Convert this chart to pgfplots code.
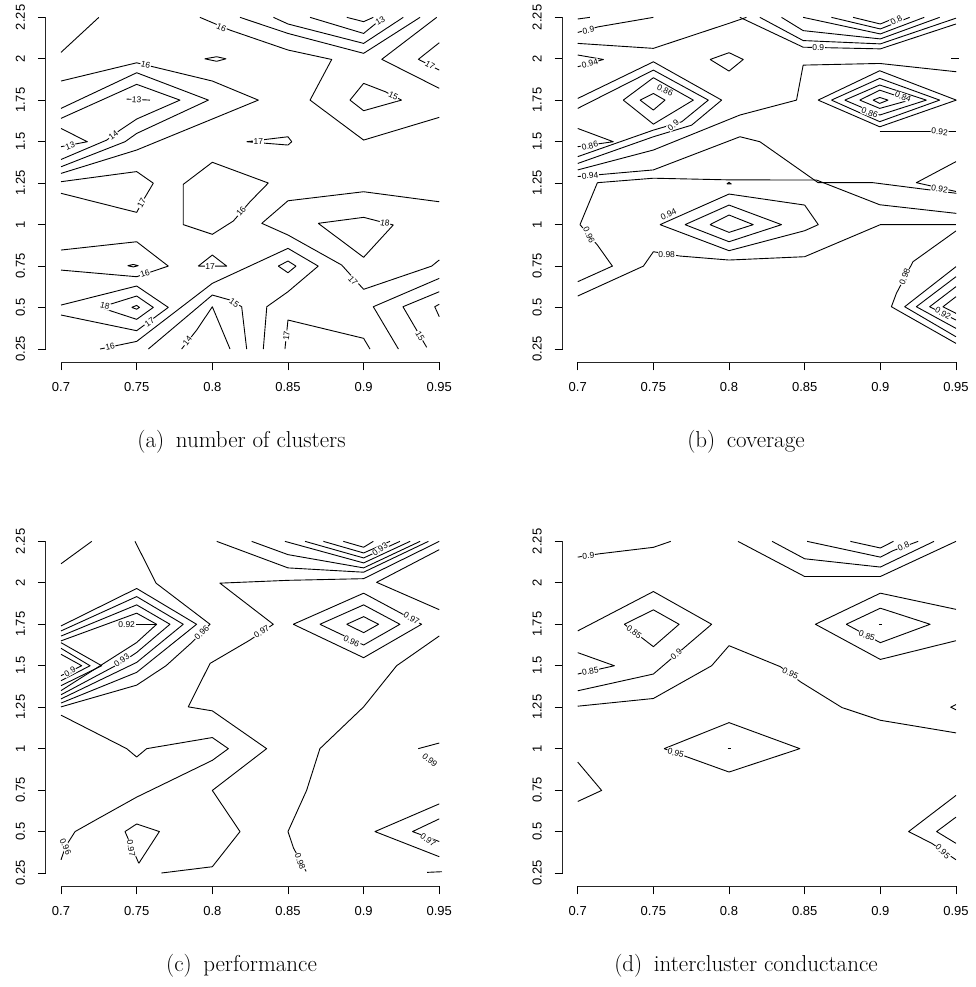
\documentclass[border=0pt]{standalone}
\usepackage{fontspec}
\setmainfont{Latin Modern Roman}
\newfontfamily\rfont{Liberation Sans}
\usepackage{pgfplots}
\pgfplotsset{compat=1.18}
\tikzset{c/.style={black, line width=0.9pt, mark=none, line join=round},
  lbl/.style={font=\rfont\fontsize{8.5}{8.5}\selectfont, fill=white, inner sep=0.6pt}}
\pgfplotsset{
  rplot/.style={
    anchor=south west,
    scale only axis, width=408.5pt, height=358.2pt,
    xmin=0.69, xmax=0.96, ymin=0.17, ymax=2.33,
    axis x line*=bottom, axis y line*=left,
    axis line style={draw=none},
    tick align=outside, major tick length=8pt,
    tick style={black, line width=0.8pt},
    xtick={0.7,0.75,0.8,0.85,0.9,0.95},
    xticklabels={0.7,0.75,0.8,0.85,0.9,0.95},
    ytick={0.25,0.5,0.75,1,1.25,1.5,1.75,2,2.25},
    yticklabels={0.25,0.5,0.75,1,1.25,1.5,1.75,2,2.25},
    ticklabel style={font=\rfont\fontsize{13}{13}\selectfont},
    xticklabel style={anchor=base, inner sep=0pt, yshift=-21.5pt},
    yticklabel style={xshift=-12.9pt, rotate=90, anchor=base, inner sep=0pt},
    clip=false,
  },
}
\newcommand{\raxes}{%
  \draw[line width=1pt, black!85] (axis cs:0.7,0.17) -- (axis cs:0.95,0.17);
  \draw[line width=1pt, black!85] (axis cs:0.69,0.25) -- (axis cs:0.69,2.25);}
\begin{document}
\begin{tikzpicture}[x=1pt,y=1pt]
\useasboundingbox (0,0) rectangle (975,987);
% ================= (a) =================
\begin{axis}[rplot, at={(45.9pt,624.7pt)}]
\raxes
\addplot[c] coordinates {(0.7,2.039) (0.725,2.25)};
\addplot[c] coordinates {(0.7918,2.25) (0.8117,2.173) (0.85,2.053) (0.8789,1.996) (0.8646,1.751) (0.9,1.510) (0.95,1.647)};
\addplot[c] coordinates {(0.7,1.866) (0.75,1.976) (0.8,1.866) (0.8304,1.751) (0.8,1.637) (0.75,1.45) (0.7,1.309)};
\addplot[c] coordinates {(0.7,1.701) (0.75,1.916) (0.7974,1.751) (0.75,1.55) (0.7423,1.5) (0.7,1.349)};
\addplot[c] coordinates {(0.7,1.641) (0.75,1.846) (0.7786,1.751) (0.75,1.637) (0.739,1.57) (0.7302,1.51) (0.7,1.393)};
\addplot[c] coordinates {(0.7,1.58) (0.7174,1.5) (0.7,1.47)};
\addplot[c] coordinates {(0.7434,1.757) (0.7588,1.751)};
\addplot[c] coordinates {(0.795,2.0) (0.8029,2.0125) (0.809,2.0) (0.8029,1.985) (0.795,2.0)};
\addplot[c] coordinates {(0.7,1.259) (0.75,1.32) (0.761,1.25) (0.7544,1.148) (0.75,1.074) (0.7,1.189)};
\addplot[c] coordinates {(0.8,1.376) (0.837,1.251) (0.8249,1.138) (0.8139,1.022) (0.8,0.9416) (0.7808,1.0) (0.7808,1.243) (0.8,1.376)};
\addplot[c] coordinates {(0.7,0.8468) (0.75,0.897) (0.7709,0.75) (0.75,0.686) (0.7,0.726)};
\addplot[c] coordinates {(0.744,0.7525) (0.7478,0.76) (0.751,0.7525) (0.7478,0.745) (0.744,0.7525)};
\addplot[c] coordinates {(0.7907,0.75) (0.8,0.8167) (0.8095,0.75) (0.7907,0.75)};
\addplot[c] coordinates {(0.7,0.515) (0.75,0.63) (0.7709,0.501) (0.75,0.3605) (0.7,0.455)};
\addplot[c] coordinates {(0.7258,0.501) (0.75,0.5696) (0.761,0.501) (0.75,0.429) (0.7258,0.501)};
\addplot[c] coordinates {(0.7467,0.501) (0.75,0.513) (0.7518,0.501) (0.75,0.49) (0.7467,0.501)};
\addplot[c] coordinates {(0.7258,0.25) (0.75,0.296) (0.8,0.646) (0.85,0.857) (0.870,0.75) (0.85,0.5955) (0.836,0.505) (0.8337,0.25)};
\addplot[c] coordinates {(0.8436,0.75) (0.85,0.7806) (0.8553,0.75) (0.85,0.71) (0.8436,0.75)};
\addplot[c] coordinates {(0.7577,0.25) (0.8,0.5755) (0.8117,0.5455) (0.8194,0.505) (0.8227,0.25)};
\addplot[c] coordinates {(0.7797,0.25) (0.7897,0.3646) (0.8,0.505) (0.8117,0.25)};
\addplot[c] coordinates {(0.848,0.25) (0.85,0.4248) (0.9,0.3145) (0.9042,0.25)};
\addplot[c] coordinates {(0.95,0.787) (0.945,0.75) (0.9,0.61) (0.8855,0.7565) (0.85,0.9375) (0.8327,1.008) (0.85,1.144) (0.9,1.1985) (0.95,1.138)};
\addplot[c] coordinates {(0.870,1.008) (0.9,1.044) (0.9196,0.998) (0.9,0.803) (0.870,1.008)};
\addplot[c] coordinates {(0.95,0.676) (0.9064,0.505) (0.923,0.25)};
\addplot[c] coordinates {(0.95,0.5955) (0.926,0.505) (0.9417,0.26)};
\addplot[c] coordinates {(0.95,0.52) (0.947,0.505) (0.95,0.445)};
\addplot[c] coordinates {(0.8183,2.25) (0.85,2.153) (0.9,2.033) (0.9373,2.25)};
\addplot[c] coordinates {(0.8404,2.25) (0.85,2.21) (0.9,2.093) (0.9262,2.25)};
\addplot[c] coordinates {(0.8646,2.25) (0.9,2.153) (0.913,2.25)};
\addplot[c] coordinates {(0.8889,2.25) (0.9,2.224) (0.9064,2.25)};
\addplot[c] coordinates {(0.9483,2.25) (0.912,1.997) (0.95,1.822)};
\addplot[c] coordinates {(0.95,2.097) (0.9362,1.997) (0.95,1.932)};
\addplot[c] coordinates {(0.9,1.852) (0.9142,1.802) (0.925,1.751) (0.9,1.687) (0.891,1.751) (0.9,1.852)};
\addplot[c] coordinates {(0.8227,1.5) (0.85,1.53) (0.8525,1.5) (0.85,1.48) (0.8227,1.5)};
\node[lbl,rotate=-22] at (axis cs:0.806,2.19) {16};
\node[lbl,rotate=-14] at (axis cs:0.7559,1.962) {16};
\node[lbl,rotate=37] at (axis cs:0.7346,1.54) {14};
\node[lbl,rotate=20] at (axis cs:0.706,1.476) {13};
\node[lbl,rotate=-5] at (axis cs:0.75,1.753) {13};
\node[lbl,rotate=61] at (axis cs:0.7533,1.129) {17};
\node[lbl,rotate=49] at (axis cs:0.819,1.08) {16};
\node[lbl,rotate=18] at (axis cs:0.7555,0.705) {16};
\node[lbl] at (axis cs:0.7985,0.75) {17};
\node[lbl,rotate=36] at (axis cs:0.7585,0.41) {17};
\node[lbl,rotate=-15] at (axis cs:0.729,0.51) {18};
\node[lbl,rotate=12] at (axis cs:0.7324,0.263) {16};
\node[lbl,rotate=-35] at (axis cs:0.8145,0.528) {15};
\node[lbl,rotate=52] at (axis cs:0.7835,0.30) {14};
\node[lbl,rotate=84] at (axis cs:0.849,0.33) {17};
\node[lbl,rotate=-48] at (axis cs:0.893,0.66) {17};
\node[lbl,rotate=-10] at (axis cs:0.9141,1.01) {18};
\node[lbl,rotate=-60] at (axis cs:0.9373,0.33) {15};
\node[lbl,rotate=30] at (axis cs:0.911,2.228) {13};
\node[lbl,rotate=-25] at (axis cs:0.9196,1.777) {15};
\node[lbl,rotate=-30] at (axis cs:0.9439,1.96) {17};
\node[lbl] at (axis cs:0.8304,1.5) {17};
\end{axis}
\node[font=\fontsize{23}{23}\selectfont, anchor=base] at (241.5,539) {(a)\enspace number of clusters};
% ================= (b) =================
\begin{axis}[rplot, at={(562.6pt,624.7pt)}]
\raxes
\addplot[c] coordinates {(0.7,2.24) (0.708,2.25)};
\addplot[c] coordinates {(0.7,2.159) (0.7136,2.193) (0.75,2.25)};
\addplot[c] coordinates {(0.7,2.093) (0.75,2.063) (0.8,2.214) (0.8115,2.25)};
\addplot[c] coordinates {(0.7,2.023) (0.717,1.996) (0.7,1.952)};
\addplot[c] coordinates {(0.7875,1.996) (0.8,2.037) (0.8094,1.996) (0.8,1.926) (0.7875,1.996)};
\addplot[c] coordinates {(0.7,1.761) (0.75,1.982) (0.7951,1.751) (0.7753,1.60) (0.75,1.53) (0.7,1.369)};
\addplot[c] coordinates {(0.7,1.701) (0.75,1.932) (0.7863,1.751) (0.7687,1.62) (0.75,1.57) (0.7,1.41)};
\addplot[c] coordinates {(0.7301,1.751) (0.75,1.886) (0.7764,1.751) (0.75,1.606) (0.7301,1.751)};
\addplot[c] coordinates {(0.7412,1.751) (0.75,1.791) (0.7577,1.751) (0.75,1.691) (0.7412,1.751)};
\addplot[c] coordinates {(0.7,1.58) (0.7235,1.5) (0.7,1.47)};
\addplot[c] coordinates {(0.7,1.33) (0.75,1.45) (0.8072,1.661) (0.8446,1.751) (0.849,1.962) (0.8996,1.972) (0.9502,1.922)};
\addplot[c] coordinates {(0.7,1.29) (0.75,1.33) (0.8072,1.53) (0.8204,1.5) (0.8589,1.253) (0.8952,1.253) (0.9502,1.189)};
\addplot[c] coordinates {(0.8072,2.25) (0.849,2.07) (0.9,2.06) (0.95,2.21)};
\addplot[c] coordinates {(0.8204,2.25) (0.849,2.11) (0.9,2.09) (0.95,2.245)};
\addplot[c] coordinates {(0.8347,2.25) (0.849,2.17) (0.9,2.12) (0.9392,2.25)};
\addplot[c] coordinates {(0.849,2.25) (0.9,2.15) (0.929,2.25)};
\addplot[c] coordinates {(0.8677,2.25) (0.9,2.18) (0.9194,2.25)};
\addplot[c] coordinates {(0.882,2.25) (0.9,2.21) (0.9106,2.25)};
\addplot[c] coordinates {(0.8589,1.751) (0.8996,1.928) (0.9502,1.751) (0.8996,1.590) (0.8589,1.751)};
\addplot[c] coordinates {(0.8677,1.751) (0.8996,1.882) (0.9392,1.751) (0.8996,1.621) (0.8677,1.751)};
\addplot[c] coordinates {(0.8765,1.751) (0.8996,1.842) (0.9304,1.751) (0.8996,1.661) (0.8765,1.751)};
\addplot[c] coordinates {(0.8864,1.751) (0.8996,1.811) (0.9194,1.751) (0.8996,1.701) (0.8864,1.751)};
\addplot[c] coordinates {(0.8952,1.751) (0.8996,1.767) (0.9051,1.751) (0.8996,1.731) (0.8952,1.751)};
\addplot[c] coordinates {(0.8996,1.56) (0.95,1.56)};
\addplot[c] coordinates {(0.95,1.38) (0.9238,1.253) (0.95,1.2)};
\addplot[c] coordinates {(0.713,1.253) (0.7015,1.0)};
\addplot[c] coordinates {(0.713,1.253) (0.75,1.28) (0.8,1.27) (0.8578,1.269) (0.8996,1.12) (0.9502,1.068)};
\addplot[c] coordinates {(0.7015,1.0) (0.713,0.877) (0.7229,0.75) (0.7,0.656)};
\addplot[c] coordinates {(0.7985,1.245) (0.8,1.255) (0.8015,1.245) (0.7985,1.245)};
\addplot[c] coordinates {(0.7544,1.0) (0.8,1.1845) (0.85,1.118) (0.859,1.0) (0.85,0.9634) (0.8,0.843) (0.7544,1.0)};
\addplot[c] coordinates {(0.7709,1.0) (0.8,1.118) (0.8347,1.0) (0.8,0.897) (0.7709,1.0)};
\addplot[c] coordinates {(0.7874,1.0) (0.8,1.058) (0.816,1.0) (0.8,0.9534) (0.7874,1.0)};
\addplot[c] coordinates {(0.7,0.5696) (0.7434,0.75) (0.75,0.8368) (0.7676,0.8107) (0.8,0.7866) (0.85,0.8067) (0.9,1.0) (0.95,1.0)};
\addplot[c] coordinates {(0.95,0.962) (0.9216,0.7765) (0.9106,0.5855) (0.9073,0.505) (0.95,0.284)};
\addplot[c] coordinates {(0.95,0.7465) (0.9161,0.505) (0.95,0.324)};
\addplot[c] coordinates {(0.95,0.686) (0.9238,0.505) (0.95,0.3745)};
\addplot[c] coordinates {(0.95,0.626) (0.9326,0.505) (0.95,0.4248)};
\addplot[c] coordinates {(0.95,0.5655) (0.9414,0.505) (0.95,0.465)};
\addplot[c] coordinates {(0.947,2.0) (0.952,2.0)};
\node[lbl,rotate=10] at (axis cs:0.707,2.173) {0.9};
\node[lbl,rotate=15] at (axis cs:0.708,1.97) {0.94};
\node[lbl,rotate=-25] at (axis cs:0.7577,1.81) {0.86};
\node[lbl,rotate=40] at (axis cs:0.7632,1.6) {0.9};
\node[lbl,rotate=15] at (axis cs:0.708,1.475) {0.86};
\node[lbl,rotate=5] at (axis cs:0.7081,1.295) {0.94};
\node[lbl] at (axis cs:0.859,2.068) {0.9};
\node[lbl,rotate=30] at (axis cs:0.9106,2.232) {0.8};
\node[lbl,rotate=-20] at (axis cs:0.915,1.771) {0.84};
\node[lbl,rotate=-20] at (axis cs:0.893,1.675) {0.86};
\node[lbl,rotate=-5] at (axis cs:0.9392,1.56) {0.92};
\node[lbl,rotate=-10] at (axis cs:0.9392,1.215) {0.92};
\node[lbl,rotate=-65] at (axis cs:0.7075,0.937) {0.96};
\node[lbl,rotate=25] at (axis cs:0.76,1.06) {0.94};
\node[lbl] at (axis cs:0.7588,0.82) {0.98};
\node[lbl,rotate=68] at (axis cs:0.9161,0.686) {0.98};
\node[lbl,rotate=-30] at (axis cs:0.9414,0.465) {0.92};
\end{axis}
\node[font=\fontsize{23}{23}\selectfont, anchor=base] at (746,539) {(b)\enspace coverage};
% ================= (c) =================
\begin{axis}[rplot, at={(45.9pt,100.7pt)}]
\raxes
\addplot[c] coordinates {(0.7,2.115) (0.7203,2.25)};
\addplot[c] coordinates {(0.7489,2.25) (0.7628,1.998) (0.7985,1.75) (0.7863,1.639) (0.7694,1.5) (0.75,1.383) (0.7,1.252)};
\addplot[c] coordinates {(0.7,1.74) (0.75,1.966) (0.7896,1.75) (0.75,1.46) (0.7,1.275)};
\addplot[c] coordinates {(0.7,1.71) (0.75,1.917) (0.7808,1.75) (0.75,1.52) (0.7,1.30)};
\addplot[c] coordinates {(0.7,1.679) (0.75,1.867) (0.772,1.75) (0.75,1.58) (0.7401,1.52) (0.7,1.325)};
\addplot[c] coordinates {(0.7,1.65) (0.75,1.817) (0.7632,1.75) (0.75,1.64) (0.7,1.35)};
\addplot[c] coordinates {(0.7434,1.75) (0.7632,1.75)};
\addplot[c] coordinates {(0.7,1.639) (0.7269,1.5) (0.7,1.38)};
\addplot[c] coordinates {(0.7,1.605) (0.7192,1.5) (0.7,1.41)};
\addplot[c] coordinates {(0.7,1.569) (0.7137,1.5) (0.7,1.44)};
\addplot[c] coordinates {(0.95,2.25) (0.9,2.025) (0.85,2.015) (0.805,1.998) (0.8403,1.75) (0.8249,1.655) (0.7985,1.514) (0.7841,1.252) (0.8,1.228) (0.8359,1.0) (0.8,0.748) (0.8183,0.5) (0.8,0.288) (0.7663,0.25)};
\addplot[c] coordinates {(0.8029,2.25) (0.85,2.09) (0.9,2.064) (0.9428,2.25)};
\addplot[c] coordinates {(0.826,2.25) (0.85,2.17) (0.9,2.09) (0.9373,2.25)};
\addplot[c] coordinates {(0.848,2.25) (0.9,2.12) (0.9307,2.25)};
\addplot[c] coordinates {(0.8613,2.25) (0.9,2.15) (0.924,2.25)};
\addplot[c] coordinates {(0.8734,2.25) (0.9,2.18) (0.9174,2.25)};
\addplot[c] coordinates {(0.8866,2.25) (0.9,2.2145) (0.9064,2.25)};
\addplot[c] coordinates {(0.95,2.2) (0.9086,2.003) (0.95,1.838)};
\addplot[c] coordinates {(0.8535,1.75) (0.9,1.9375) (0.9383,1.75) (0.9,1.5485) (0.8535,1.75)};
\addplot[c] coordinates {(0.8711,1.75) (0.9,1.867) (0.924,1.75) (0.9,1.625) (0.8711,1.75)};
\addplot[c] coordinates {(0.8888,1.75) (0.9,1.796) (0.9099,1.75) (0.9,1.6995) (0.8888,1.75)};
\addplot[c] coordinates {(0.95,1.6795) (0.9218,1.5) (0.9,1.252) (0.8711,1.0) (0.8623,0.748) (0.85,0.5) (0.8537,0.4) (0.862,0.26)};
\addplot[c] coordinates {(0.9361,1.0) (0.95,1.034)};
\addplot[c] coordinates {(0.95,0.667) (0.9075,0.5) (0.95,0.3485)};
\addplot[c] coordinates {(0.95,0.5766) (0.9323,0.5) (0.95,0.44)};
\addplot[c] coordinates {(0.9419,0.254) (0.9518,0.258)};
\addplot[c] coordinates {(0.7,1.202) (0.7434,1.0) (0.75,0.9496) (0.7566,1.0) (0.8,1.067) (0.8106,1.0) (0.8,0.9295) (0.75,0.7077) (0.7229,0.57) (0.7093,0.5) (0.703,0.41) (0.7,0.33)};
\addplot[c] coordinates {(0.7514,0.3086) (0.7423,0.5) (0.75,0.546) (0.765,0.5) (0.7514,0.3086)};
\node[lbl,rotate=45] at (axis cs:0.793,1.70) {0.96};
\node[lbl,rotate=35] at (axis cs:0.7401,1.534) {0.93};
\node[lbl] at (axis cs:0.7434,1.75) {0.92};
\node[lbl,rotate=30] at (axis cs:0.7059,1.464) {0.9};
\node[lbl,rotate=34] at (axis cs:0.8326,1.705) {0.97};
\node[lbl,rotate=35] at (axis cs:0.9108,2.2025) {0.93};
\node[lbl,rotate=-30] at (axis cs:0.9317,1.786) {0.97};
\node[lbl,rotate=-25] at (axis cs:0.892,1.645) {0.96};
\node[lbl,rotate=-40] at (axis cs:0.9438,0.9295) {0.99};
\node[lbl,rotate=-70] at (axis cs:0.858,0.32) {0.98};
\node[lbl,rotate=-65] at (axis cs:0.703,0.409) {0.96};
\node[lbl,rotate=-80] at (axis cs:0.7463,0.4) {0.97};
\node[lbl,rotate=-35] at (axis cs:0.9426,0.449) {0.97};
\end{axis}
\node[font=\fontsize{23}{23}\selectfont, anchor=base] at (241.5,15) {(c)\enspace performance};
% ================= (d) =================
\begin{axis}[rplot, at={(562.6pt,100.7pt)}]
\raxes
\addplot[c] coordinates {(0.7,2.155) (0.7143,2.175) (0.75,2.214) (0.7615,2.25)};
\addplot[c] coordinates {(0.8059,2.25) (0.85,2.038) (0.9,2.038) (0.95,2.25)};
\addplot[c] coordinates {(0.8285,2.25) (0.85,2.145) (0.9,2.095) (0.9355,2.25)};
\addplot[c] coordinates {(0.8516,2.25) (0.9,2.155) (0.9087,2.195) (0.925,2.25)};
\addplot[c] coordinates {(0.8802,2.25) (0.9,2.21) (0.9087,2.25)};
\addplot[c] coordinates {(0.7,1.71) (0.75,1.9475) (0.7885,1.75) (0.75,1.45) (0.7,1.349)};
\addplot[c] coordinates {(0.7308,1.75) (0.75,1.837) (0.767,1.75) (0.75,1.615) (0.7308,1.75)};
\addplot[c] coordinates {(0.7,1.579) (0.7242,1.5) (0.7,1.45)};
\addplot[c] coordinates {(0.7,1.256) (0.75,1.3025) (0.7885,1.5) (0.8,1.621) (0.834,1.494) (0.8472,1.403) (0.8746,1.248) (0.9,1.171) (0.95,1.095)};
\addplot[c] coordinates {(0.7571,1.0) (0.8,1.157) (0.8468,1.0) (0.8,0.859) (0.7571,1.0)};
\addplot[c] coordinates {(0.799,1.0) (0.801,1.0)};
\addplot[c] coordinates {(0.95,1.84) (0.9,1.9375) (0.8571,1.75) (0.9,1.538) (0.95,1.651)};
\addplot[c] coordinates {(0.8775,1.75) (0.9,1.847) (0.9329,1.75) (0.9,1.639) (0.8775,1.75)};
\addplot[c] coordinates {(0.899,1.75) (0.901,1.75)};
\addplot[c] coordinates {(0.95,1.266) (0.9465,1.25) (0.95,1.234)};
\addplot[c] coordinates {(0.7,0.919) (0.7158,0.748) (0.7,0.6815)};
\addplot[c] coordinates {(0.95,0.718) (0.9187,0.5) (0.934,0.429) (0.95,0.33)};
\addplot[c] coordinates {(0.95,0.587) (0.9372,0.5) (0.95,0.429)};
\node[lbl,rotate=5] at (axis cs:0.707,2.162) {0.9};
\node[lbl,rotate=25] at (axis cs:0.9153,2.22) {0.8};
\node[lbl,rotate=40] at (axis cs:0.7652,1.568) {0.9};
\node[lbl,rotate=-37] at (axis cs:0.7373,1.704) {0.85};
\node[lbl,rotate=10] at (axis cs:0.7083,1.468) {0.85};
\node[lbl,rotate=-25] at (axis cs:0.8406,1.454) {0.95};
\node[lbl,rotate=-15] at (axis cs:0.7648,0.973) {0.95};
\node[lbl,rotate=-20] at (axis cs:0.8911,1.68) {0.85};
\node[lbl,rotate=-45] at (axis cs:0.9413,0.38) {0.95};
\end{axis}
\node[font=\fontsize{23}{23}\selectfont, anchor=base] at (746,15) {(d)\enspace intercluster conductance};
\end{tikzpicture}
\end{document}
